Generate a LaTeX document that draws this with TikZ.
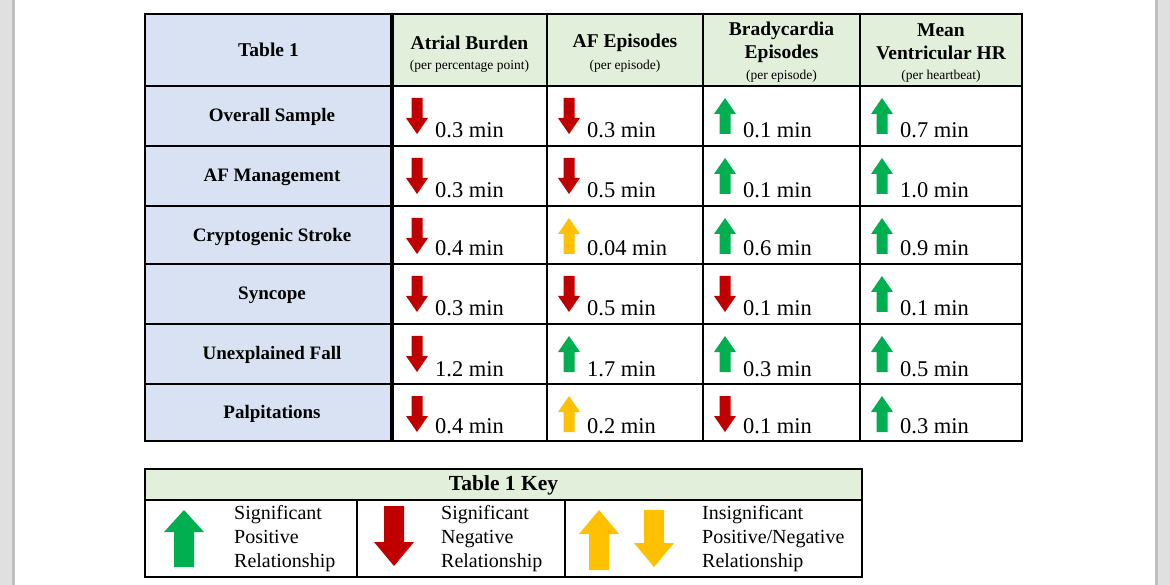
\documentclass[tikz,border=0pt]{standalone}
\usepackage{fontspec}
\setmainfont{Liberation Serif}
\definecolor{myred}{HTML}{C00000}
\definecolor{mygreen}{HTML}{00B050}
\definecolor{myyellow}{HTML}{FFC000}
\definecolor{hblue}{HTML}{D9E2F3}
\definecolor{hgreen}{HTML}{E2EFDA}
\definecolor{sidegrey}{HTML}{E0E0E0}
\newcommand\myup[7]{\fill[#7] (#1,#2) -- ({#1+#3/2},{#2+#5}) -- ({#1+#6/2},{#2+#5}) -- ({#1+#6/2},{#2+#4}) -- ({#1-#6/2},{#2+#4}) -- ({#1-#6/2},{#2+#5}) -- ({#1-#3/2},{#2+#5}) -- cycle;}
\newcommand\mydn[7]{\fill[#7] (#1,{#2+#4}) -- ({#1+#3/2},{#2+#4-#5}) -- ({#1+#6/2},{#2+#4-#5}) -- ({#1+#6/2},#2) -- ({#1-#6/2},#2) -- ({#1-#6/2},{#2+#4-#5}) -- ({#1-#3/2},{#2+#4-#5}) -- cycle;}
% cell: name, x left, y top, y bottom, u/d, colour, text
\newcommand\mycell[7]{%
  \ifx u#5\myup{#2+22}{#3+12}{22}{36}{16}{11}{#6}\else\mydn{#2+22}{#3+12}{22}{36}{16}{11}{#6}\fi
  \node[val] (#1) at (#2+40,#4-8) {#7 min};}
\begin{document}
\begin{tikzpicture}[x=1pt,y=-1pt,
  grid/.style={line width=2.8pt,black},
  rowlab/.style={font=\fontsize{19}{21}\selectfont\bfseries,align=center},
  head/.style={font=\fontsize{19.5}{23}\selectfont\bfseries,align=center},
  sub/.style={font=\fontsize{13.5}{15}\selectfont},
  val/.style={anchor=base west,inner sep=0pt,font=\fontsize{22.5}{24}\selectfont},
  keytxt/.style={anchor=north west,inner sep=0pt,align=left,font=\fontsize{20}{24}\selectfont}]
\useasboundingbox (0,0) rectangle (1170,585);
\fill[sidegrey] (0,0) rectangle (12,585);
\fill[black!25] (12,0) rectangle (15,585);
\fill[sidegrey] (1158,0) rectangle (1170,585);
\fill[black!25] (1155,0) rectangle (1158,585);
% fills
\fill[hblue] (145,14) rectangle (392,441);
\fill[hgreen] (392,14) rectangle (1022,86);
\fill[hgreen] (145,469) rectangle (862,500);
% header
\node[head] (t1) at (268.5,50) {Table 1};
\node[head] (h1) at (469.5,43) {Atrial Burden};
\node[sub] (s1) at (469.5,66) {(per percentage point)};
\node[head] (h2) at (625,43) {AF Episodes};
\node[sub] (s2) at (625,66) {(per episode)};
\node[head] (h3) at (781.5,42) {Bradycardia\\Episodes};
\node[sub] (s3) at (781.5,76) {(per episode)};
\node[head] (h4) at (941,42) {Mean\\Ventricular HR};
\node[sub] (s4) at (941,76) {(per heartbeat)};
% row labels
\node[rowlab] (r1) at (272,117) {Overall Sample};
\node[rowlab] (r2) at (272,177) {AF Management};
\node[rowlab] (r3) at (272,237) {Cryptogenic Stroke};
\node[rowlab] (r4) at (272,295) {Syncope};
\node[rowlab] (r5) at (272,355) {Unexplained Fall};
\node[rowlab] (r6) at (272,414) {Palpitations};
% values
\mycell{c11}{395}{86}{146}{d}{myred}{0.3}
\mycell{c12}{547}{86}{146}{d}{myred}{0.3}
\mycell{c13}{703}{86}{146}{u}{mygreen}{0.1}
\mycell{c14}{860}{86}{146}{u}{mygreen}{0.7}
\mycell{c21}{395}{146}{206}{d}{myred}{0.3}
\mycell{c22}{547}{146}{206}{d}{myred}{0.5}
\mycell{c23}{703}{146}{206}{u}{mygreen}{0.1}
\mycell{c24}{860}{146}{206}{u}{mygreen}{1.0}
\mycell{c31}{395}{206}{264}{d}{myred}{0.4}
\mycell{c32}{547}{206}{264}{u}{myyellow}{0.04}
\mycell{c33}{703}{206}{264}{u}{mygreen}{0.6}
\mycell{c34}{860}{206}{264}{u}{mygreen}{0.9}
\mycell{c41}{395}{264}{324}{d}{myred}{0.3}
\mycell{c42}{547}{264}{324}{d}{myred}{0.5}
\mycell{c43}{703}{264}{324}{d}{myred}{0.1}
\mycell{c44}{860}{264}{324}{u}{mygreen}{0.1}
\mycell{c51}{395}{324}{384}{d}{myred}{1.2}
\mycell{c52}{547}{324}{384}{u}{mygreen}{1.7}
\mycell{c53}{703}{324}{384}{u}{mygreen}{0.3}
\mycell{c54}{860}{324}{384}{u}{mygreen}{0.5}
\mycell{c61}{395}{384}{441}{d}{myred}{0.4}
\mycell{c62}{547}{384}{441}{u}{myyellow}{0.2}
\mycell{c63}{703}{384}{441}{d}{myred}{0.1}
\mycell{c64}{860}{384}{441}{u}{mygreen}{0.3}
% grid
\draw[grid] (145,14) rectangle (1022,441);
\foreach \x in {547,703,860} \draw[grid] (\x,14) -- (\x,441);
\draw[line width=4pt] (392,14) -- (392,441);
\foreach \y in {86,146,206,264,324,384} \draw[grid] (145,\y) -- (1022,\y);
% key
\node[font=\fontsize{21.5}{23}\selectfont\bfseries] (kt) at (503.5,485.5) {Table 1 Key};
\myup{184}{510}{40}{57}{22}{20}{mygreen}
\node[keytxt] (k1) at (234,505) {Significant\\Positive\\Relationship};
\mydn{394}{506}{40}{60}{24}{20}{myred}
\node[keytxt] (k2) at (441,505) {Significant\\Negative\\Relationship};
\myup{599}{510}{40}{60}{24}{20}{myyellow}
\mydn{654}{510}{40}{57}{24}{20}{myyellow}
\node[keytxt] (k3) at (702,505) {Insignificant\\Positive/Negative\\Relationship};
\draw[grid] (145,469) rectangle (862,577);
\draw[grid] (145,500) -- (862,500);
\draw[grid] (357,500) -- (357,577);
\draw[grid] (565,500) -- (565,577);
\end{tikzpicture}
\end{document}
